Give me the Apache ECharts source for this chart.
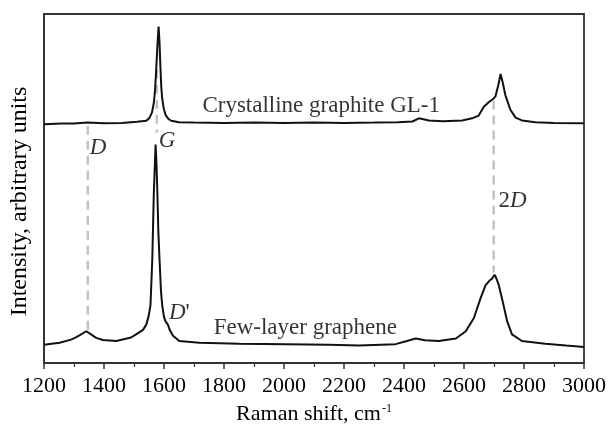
<!DOCTYPE html>
<html>
<head>
<meta charset="utf-8">
<title>Raman</title>
<style>
html, body { margin: 0; padding: 0; background: #fff; }
#chart { width: 609px; height: 430px; }
</style>
</head>
<body>
<div id="chart"></div>
<script src="https://cdn.jsdelivr.net/npm/echarts@6/dist/echarts.min.js"></script>
<script>
// x ticks
var xTicks = [1200, 1400, 1600, 1800, 2000, 2200, 2400, 2600, 2800, 3000];

// Crystalline graphite GL-1 (upper, offset trace)
var gX = [1200,1260,1300,1345,1400,1460,1510,1541,1552,1560,1566,1570,1574,1578,1582,1585,1588,1591,1594,1599,1605,1614,1624,1650,1700,1800,1900,2000,2100,2200,2300,2380,2428,2450,2483,2530,2594,2627,2649,2666,2683,2699,2705,2714,2722,2730,2738,2755,2772,2793,2838,2900,3000];
var gY = [68.4,68.6,68.6,68.9,68.7,68.8,69.1,69.4,70.3,71.8,74.5,78,84,91,96.4,92,85,79,75.8,73,71.1,70,69.4,69.0,68.9,68.8,68.9,68.8,68.9,68.8,68.9,69.0,69.2,70.1,69.5,69.3,69.5,70.1,70.9,73.4,74.8,75.8,76.4,79.5,82.8,80,76.7,72.5,70.3,69.5,69.0,68.8,68.7];

// Few-layer graphene (lower trace)
var fX = [1200,1252,1290,1308,1325,1341,1357,1374,1396,1441,1490,1507,1530,1541,1549,1555,1561,1566,1570,1572,1575,1578,1581,1585,1590,1594,1600,1605,1613,1620,1630,1651,1718,1851,2006,2150,2250,2372,2410,2439,2470,2516,2573,2606,2633,2655,2672,2686,2693,2702,2709,2716,2729,2744,2760,2793,2871,2940,3000];
var fY = [5.2,5.8,6.7,7.4,8.3,9.1,8.2,7.2,6.6,6.3,7.3,8.2,9.5,11,13.5,16.6,29.8,48.5,58,62.6,57,48.5,38,29.8,20.5,16.6,13.2,11.9,11,9.3,7.8,6.3,5.8,5.5,5.4,5.2,5.0,5.4,6.3,7.0,6.5,6.3,7.0,9.1,12.9,18.5,22.3,23.7,24.1,25.3,24,22.3,17.6,11.9,8.2,6.3,5.5,5.0,4.6];

// dashed band markers D, G, 2D
var markX = [1346, 1576, 2699];
var markTop = [68, 84, 75.2];
var markBottom = [9.5, 66, 25.9];

// annotations
var noteText = ['{i|D}', '{i|G}', "{i|D}'", '2{i|D}', 'Crystalline graphite GL-1', 'Few-layer graphene'];
var noteX = [1380, 1610, 1651, 2762, 2124, 2071];
var noteY = [61.5, 63.6, 14.2, 46.5, 73.7, 10.0];

var serif = 'Liberation Serif';
var ink = '#000';

function pairs(xs, ys) {
  var out = [];
  for (var i = 0; i < xs.length; i++) out.push([xs[i], ys[i]]);
  return out;
}

var series = [];
for (var k = 0; k < markX.length; k++) {
  series.push({
    type: 'line',
    data: [[markX[k], markTop[k]], [markX[k], markBottom[k]]],
    showSymbol: false,
    silent: true,
    z: 1,
    lineStyle: { color: '#c2c2c2', width: 2.5, type: [9, 6] }
  });
}
series.push({
  name: 'Crystalline graphite GL-1',
  type: 'line',
  data: pairs(gX, gY),
  showSymbol: false,
  z: 3,
  lineStyle: { color: '#111', width: 2 }
});
series.push({
  name: 'Few-layer graphene',
  type: 'line',
  data: pairs(fX, fY),
  showSymbol: false,
  z: 3,
  lineStyle: { color: '#111', width: 2 }
});
var notes = [];
for (var n = 0; n < noteText.length; n++) notes.push([noteX[n], noteY[n], noteText[n]]);
series.push({
  type: 'scatter',
  data: notes,
  symbolSize: 0,
  silent: true,
  z: 4,
  label: {
    show: true,
    position: 'inside',
    formatter: function (p) { return p.data[2]; },
    fontFamily: serif,
    fontSize: 23,
    color: ink,
    rich: {
      i: { fontFamily: serif, fontSize: 23, fontStyle: 'italic', color: ink }
    }
  }
});

var chart = echarts.init(document.getElementById('chart'));
chart.setOption({
  animation: false,
  grid: {
    left: 44, right: 23, top: 14, bottom: 61,
    show: true, borderColor: '#333', borderWidth: 1.8
  },
  xAxis: {
    type: 'value',
    min: xTicks[0],
    max: xTicks[xTicks.length - 1],
    interval: 200,
    name: '{a|Raman shift, cm}{b|-1}',
    nameLocation: 'middle',
    nameGap: 40,
    nameTextStyle: {
      rich: {
        a: { fontFamily: serif, fontSize: 22, lineHeight: 22, color: ink },
        b: { fontFamily: serif, fontSize: 12, lineHeight: 12, color: ink, verticalAlign: 'top', padding: [0, 0, 0, 1] }
      }
    },
    axisLine: { show: true, lineStyle: { color: '#333', width: 1.8 } },
    axisTick: { show: true, inside: false, length: 6, lineStyle: { color: '#333', width: 1.5 } },
    minorTick: { show: true, splitNumber: 2, length: 4, lineStyle: { color: '#333', width: 1.2 } },
    splitLine: { show: false },
    axisLabel: {
      fontFamily: serif, fontSize: 22, color: ink, margin: 12,
      formatter: function (v) { return String(v); }
    }
  },
  yAxis: {
    type: 'value',
    min: 0,
    max: 100,
    name: 'Intensity, arbitrary units',
    nameLocation: 'middle',
    nameGap: 12,
    nameTextStyle: { fontFamily: serif, fontSize: 24, color: ink, padding: [0, 26, 0, 0] },
    axisLine: { show: true, lineStyle: { color: '#333', width: 1.8 } },
    axisTick: { show: false },
    axisLabel: { show: false },
    splitLine: { show: false }
  },
  series: series
});
</script>
</body>
</html>
